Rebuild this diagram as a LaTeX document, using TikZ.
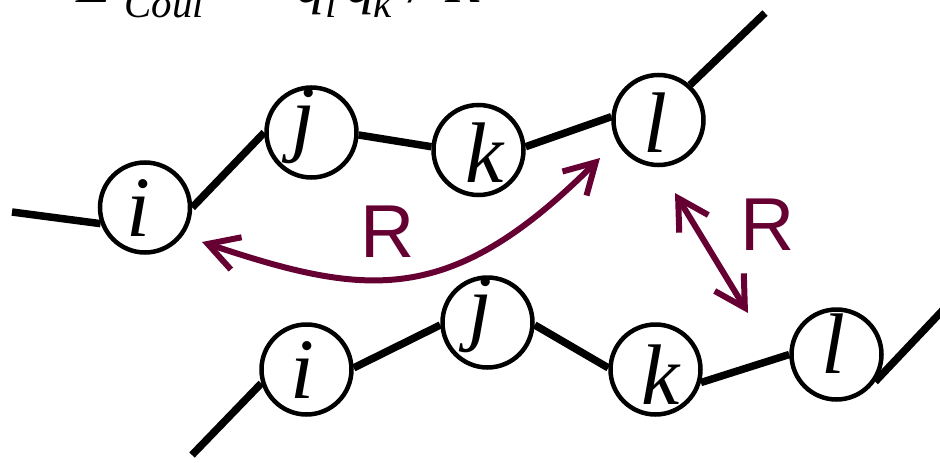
\documentclass[tikz,border=0pt]{standalone}
\usepackage{fontspec}
\setmainfont{Liberation Serif}
\setsansfont{Liberation Sans}
\usetikzlibrary{arrows.meta}
\definecolor{maroon}{RGB}{102,0,51}
\tikzset{
  bead/.style={circle, draw=black, line width=4.5pt, minimum size=90pt, inner sep=0pt, fill=white},
  beadtext/.style={inner sep=0pt, font=\fontsize{86}{86}\selectfont\itshape},
  chain/.style={line width=7.5pt, draw=black},
  rarrow/.style={draw=maroon, line width=6pt, {Straight Barb[length=30pt,width=34pt]}-{Straight Barb[length=30pt,width=34pt]}},
  rlabel/.style={text=maroon, inner sep=0pt, font=\sffamily\fontsize{75}{75}\selectfont},
  formula/.style={anchor=base west, inner sep=0pt, font=\fontsize{58}{58}\selectfont\itshape},
  formsub/.style={anchor=base west, inner sep=0pt, font=\fontsize{41}{41}\selectfont\itshape}
}
\begin{document}
\begin{tikzpicture}[x=1pt,y=-1pt]
\useasboundingbox (0,0) rectangle (940,463);
\clip (0,0) rectangle (940,463);
% formula (clipped at top)
\node[formula] (fE) at (76,2) {E};
\node[formsub] (fC) at (124,17) {Coul};
\node[formula] (fq1) at (296,2) {q};
\node[formsub] (fi) at (325,17) {i};
\node[formula] (fq2) at (346,2) {q};
\node[formsub] (fk) at (373,17) {k};
\node[formula] (fs) at (410,2) {/};
\node[formula] (fR) at (445,2) {R};
% beads
\node[bead] (i1) at (145,207.5) {};
\node[bead] (j1) at (311.5,132.5) {};
\node[bead] (k1) at (478.5,150) {};
\node[bead] (l1) at (658.5,120) {};
\node[bead] (i2) at (306.5,369.5) {};
\node[bead] (j2) at (487.5,322.5) {};
\node[bead] (k2) at (655.5,369.5) {};
\node[bead] (l2) at (836.5,354.5) {};
% bead letters
\node[beadtext] (ti1) at ([shift={(-7,1)}]i1.center) {i};
\node[beadtext] (tj1) at ([shift={(-8,-6.5)}]j1.center) {j};
\node[beadtext] (tk1) at ([shift={(6,2.5)}]k1.center) {k};
\node[beadtext] (tl1) at ([shift={(-3.5,2.5)}]l1.center) {l};
\node[beadtext] (ti2) at ([shift={(-4,0.5)}]i2.center) {i};
\node[beadtext] (tj2) at ([shift={(-7,-7)}]j2.center) {j};
\node[beadtext] (tk2) at ([shift={(5,5.5)}]k2.center) {k};
\node[beadtext] (tl2) at ([shift={(-3,-11)}]l2.center) {l};
% free chain ends
\coordinate (a0) at (12,212);
\coordinate (a5) at (765,13);
\coordinate (b0) at (192,455);
\coordinate (b5) at (960,292);
% chains
\draw[chain] (a0) -- (i1.200);
\draw[chain] (i1.east) -- (j1.west);
\draw[chain] (j1.-3) -- (k1.176);
\draw[chain] (k1.4) -- (l1.176);
\draw[chain] (l1.48) -- (a5);
\draw[chain] (b0) -- (i2.197);
\draw[chain] (i2.2) -- (j2.183);
\draw[chain] (j2.-3) -- (k2.178);
\draw[chain] (k2.-16) -- (l2.180);
\draw[chain] (l2.-35) -- (b5);
% R arrows
\coordinate (r1a) at (202,242);
\coordinate (r1b) at (600,158);
\draw[rarrow] (r1a) .. controls (367,297) and (450,308) .. (r1b);
\coordinate (r2a) at (675,193);
\coordinate (r2b) at (748,313);
\draw[rarrow] (r2a) -- (r2b);
\node[rlabel] (R1) at (388,231.5) {R};
\node[rlabel] (R2) at (768,224.5) {R};
\end{tikzpicture}
\end{document}
